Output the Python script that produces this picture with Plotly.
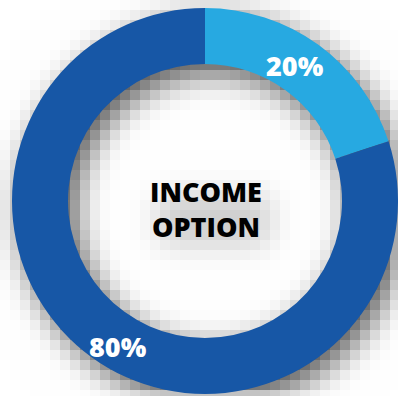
import base64
import struct
import zlib

import numpy as np
import plotly.graph_objects as go

# ---- data -------------------------------------------------------------
categories = ["Income option", "Other"]
shares = [20, 80]
colors = ["#27A9E1", "#1757A6"]
center_title = ["INCOME", "OPTION"]

# ---- canvas / ring geometry (pixels) ----------------------------------
W, H = 398, 396
CX, CY = 205, 201
R_OUT, R_IN = 193, 137


def soft_shadow(dx=8, dy=10, sigma=14.0, strength=0.68, block=10):
    """Blurred, blocky drop shadow of the ring (and the centre title)."""
    yy, xx = np.mgrid[0:H, 0:W] + 0.5
    d = np.hypot(xx - CX - dx, yy - CY - dy)
    m = ((d <= R_OUT) & (d >= R_IN)).astype(float)
    # faint shadow under the centre title
    m[(yy > 185 + dy) & (yy < 235 + dy) & (xx > 150 + dx) & (xx < 262 + dx)] += 0.3

    k = int(3 * sigma)
    t = np.arange(-k, k + 1)
    g = np.exp(-t ** 2 / (2 * sigma ** 2))
    g /= g.sum()
    m = np.apply_along_axis(lambda r: np.convolve(r, g, mode="same"), 1, m)
    m = np.apply_along_axis(lambda c: np.convolve(c, g, mode="same"), 0, m)

    hb, wb = -(-H // block) * block, -(-W // block) * block
    p = np.zeros((hb, wb))
    p[:H, :W] = m
    p = p.reshape(hb // block, block, wb // block, block).mean(axis=(1, 3))
    p = np.repeat(np.repeat(p, block, 0), block, 1)[:H, :W]

    return np.clip(255 * (1 - strength * p), 0, 255).astype(np.uint8)


def png_uri(img):
    h, w = img.shape
    raw = b"".join(b"\x00" + img[i].tobytes() for i in range(h))

    def chunk(tag, data):
        return (struct.pack(">I", len(data)) + tag + data
                + struct.pack(">I", zlib.crc32(tag + data) & 0xFFFFFFFF))

    png = (b"\x89PNG\r\n\x1a\n"
           + chunk(b"IHDR", struct.pack(">IIBBBBB", w, h, 8, 0, 0, 0, 0))
           + chunk(b"IDAT", zlib.compress(raw, 9))
           + chunk(b"IEND", b""))
    return "data:image/png;base64," + base64.b64encode(png).decode()


fig = go.Figure(
    go.Pie(
        labels=categories,
        values=shares,
        hole=R_IN / R_OUT,
        sort=False,
        direction="clockwise",
        rotation=0,
        marker=dict(colors=colors, line=dict(width=0)),
        textinfo="none",
        hoverinfo="label+percent",
        showlegend=False,
        domain=dict(x=[(CX - R_OUT) / W, min(1, (CX + R_OUT) / W)],
                    y=[(H - CY - R_OUT) / H, (H - CY + R_OUT) / H]),
    )
)

# percentage labels sitting on the ring
label_px = [(295, 65), (118, 346)]
annotations = []
for v, (px, py) in zip(shares, label_px):
    annotations.append(dict(
        x=px / W, y=1 - py / H, xref="paper", yref="paper",
        xanchor="center", yanchor="middle",
        text=f"{v}%", showarrow=False,
        font=dict(family="Open Sans", size=27, color="white", weight=800),
    ))

# centre title
annotations.append(dict(
    x=205.5 / W, y=1 - 209 / H, xref="paper", yref="paper",
    xanchor="center", yanchor="middle",
    text="<br>".join(center_title), showarrow=False,
    font=dict(family="Open Sans", size=27, color="black", weight=800),
))

fig.update_layout(
    width=W, height=H,
    margin=dict(l=0, r=0, t=0, b=0),
    paper_bgcolor="white",
    plot_bgcolor="white",
    annotations=annotations,
    images=[dict(
        source=png_uri(soft_shadow()),
        xref="paper", yref="paper", x=0, y=1, sizex=1, sizey=1,
        xanchor="left", yanchor="top", sizing="stretch", layer="below",
    )],
)

fig.write_html("out.html")
